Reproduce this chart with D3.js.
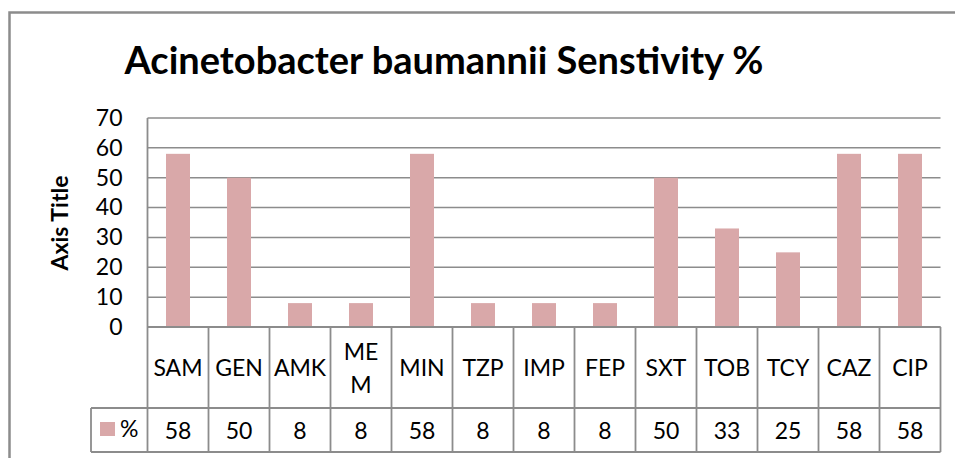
<!DOCTYPE html>
<html>
<head>
<meta charset="utf-8">
<script src="https://cdn.jsdelivr.net/npm/d3@7"></script>
<style>
  body { margin: 0; background: #fff; }
  text { font-family: Lato, "Open Sans", sans-serif; fill: #000; }
</style>
</head>
<body>
<div id="chart"></div>
<script>
'use strict';

// data
var categories = ['SAM', 'GEN', 'AMK', 'MEM', 'MIN', 'TZP', 'IMP', 'FEP', 'SXT', 'TOB', 'TCY', 'CAZ', 'CIP'];
var catLabels = [['SAM'], ['GEN'], ['AMK'], ['ME', 'M'], ['MIN'], ['TZP'], ['IMP'], ['FEP'], ['SXT'], ['TOB'], ['TCY'], ['CAZ'], ['CIP']];
var values = [58, 50, 8, 8, 58, 8, 8, 8, 50, 33, 25, 58, 58];
var yTicks = [0, 10, 20, 30, 40, 50, 60, 70];
var seriesName = '%';

var W = 955, H = 458;
var plotLeft = 147.5, plotRight = 940.5, plotTop = 118, plotBottom = 327;
var rowMid = 408, rowBot = 452, legendLeft = 91;
var lineCol = '#8c8c8c';
var barCol = '#d9a8a9';

var svg = d3.select('#chart').append('svg')
  .attr('width', W)
  .attr('height', H);

// outer chart frame (runs off the picture right and bottom)
svg.append('rect')
  .attr('x', 9.5).attr('y', 12.5)
  .attr('width', W + 20).attr('height', H + 20)
  .attr('fill', 'none')
  .attr('stroke', lineCol)
  .attr('stroke-width', 2.5);

var x = d3.scaleBand().domain(categories).range([plotLeft, plotRight]).paddingInner(0).paddingOuter(0);
var y = d3.scaleLinear().domain([0, 70]).range([plotBottom, plotTop]);

// gridlines
svg.append('g').selectAll('line')
  .data(yTicks)
  .enter().append('line')
  .attr('x1', plotLeft).attr('x2', plotRight)
  .attr('y1', function(d){ return y(d); })
  .attr('y2', function(d){ return y(d); })
  .attr('stroke', lineCol)
  .attr('stroke-width', 1.5);

// y axis labels
var yAxis = d3.axisLeft(y).tickValues(yTicks).tickSize(0).tickPadding(25);
var gy = svg.append('g').attr('transform', 'translate(' + plotLeft + ',0)').call(yAxis);
gy.select('.domain').remove();
gy.selectAll('text')
  .attr('font-size', 23)
  .attr('font-family', 'Lato, "Open Sans", sans-serif')
  .attr('fill', '#000');

// bars
var barW = 24;
svg.append('g').selectAll('rect')
  .data(values)
  .enter().append('rect')
  .attr('x', function(d, i){ return x(categories[i]) + x.bandwidth() / 2 - barW / 2; })
  .attr('y', function(d){ return y(d); })
  .attr('width', barW)
  .attr('height', function(d){ return y(0) - y(d); })
  .attr('fill', barCol);

// data table
var tbl = svg.append('g').attr('stroke', lineCol).attr('stroke-width', 1.8);
tbl.append('line').attr('x1', plotLeft).attr('x2', plotLeft).attr('y1', plotTop).attr('y2', rowBot);
tbl.append('line').attr('x1', plotLeft).attr('x2', plotRight).attr('y1', plotBottom).attr('y2', plotBottom);
tbl.append('line').attr('x1', legendLeft).attr('x2', plotRight).attr('y1', rowMid).attr('y2', rowMid);
tbl.append('line').attr('x1', legendLeft).attr('x2', plotRight).attr('y1', rowBot).attr('y2', rowBot);
tbl.append('line').attr('x1', legendLeft).attr('x2', legendLeft).attr('y1', rowMid).attr('y2', rowBot);
tbl.selectAll('.col')
  .data(categories)
  .enter().append('line')
  .attr('x1', function(d){ return x(d) + x.bandwidth(); })
  .attr('x2', function(d){ return x(d) + x.bandwidth(); })
  .attr('y1', plotBottom).attr('y2', rowBot);

// category labels
svg.append('g').selectAll('text')
  .data(categories)
  .enter().append('text')
  .attr('x', function(d){ return x(d) + x.bandwidth() / 2; })
  .attr('y', function(d, i){ return catLabels[i].length > 1 ? 360 : 376; })
  .attr('text-anchor', 'middle')
  .attr('font-size', 23)
  .each(function(d, i){
    var t = d3.select(this);
    catLabels[i].forEach(function(s, k){
      t.append('tspan')
        .attr('x', x(d) + x.bandwidth() / 2)
        .attr('dy', k === 0 ? 0 : 33)
        .text(s);
    });
  });

// values row
svg.append('g').selectAll('text')
  .data(values)
  .enter().append('text')
  .attr('x', function(d, i){ return x(categories[i]) + x.bandwidth() / 2; })
  .attr('y', 439)
  .attr('text-anchor', 'middle')
  .attr('font-size', 23)
  .text(function(d){ return d; });

// legend key
svg.append('rect')
  .attr('x', 100).attr('y', 422)
  .attr('width', 15).attr('height', 14)
  .attr('fill', barCol);
svg.append('text')
  .attr('x', 120).attr('y', 437)
  .attr('font-size', 23)
  .text(seriesName);

// axis title
svg.append('text')
  .attr('transform', 'translate(68,223) rotate(-90)')
  .attr('text-anchor', 'middle')
  .attr('font-size', 23)
  .attr('font-weight', 'bold')
  .text('Axis Title');

// chart title
svg.append('text')
  .attr('x', 444)
  .attr('y', 74)
  .attr('text-anchor', 'middle')
  .attr('font-size', 38)
  .attr('font-weight', 'bold')
  .text('Acinetobacter baumannii Senstivity %');
</script>
</body>
</html>
